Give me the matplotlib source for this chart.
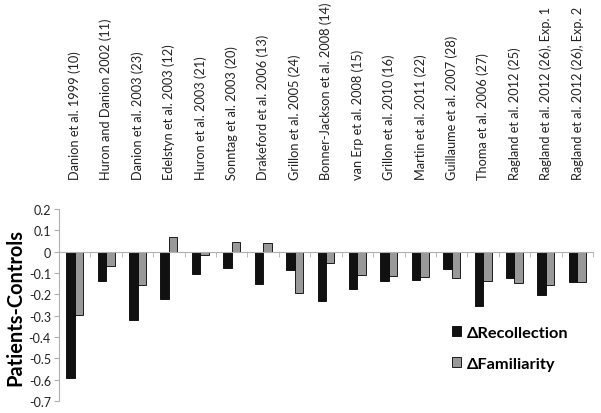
import numpy as np
import matplotlib
matplotlib.use("Agg")
import matplotlib.pyplot as plt
from matplotlib.patches import Patch

plt.rcParams['font.family'] = ['Lato', 'DejaVu Sans']
plt.rcParams['axes.unicode_minus'] = False

studies = [
    "Danion et al. 1999 (10)",
    "Huron and Danion 2002 (11)",
    "Danion et al. 2003 (23)",
    "Edelstyn et al. 2003 (12)",
    "Huron et al. 2003 (21)",
    "Sonntag et al. 2003 (20)",
    "Drakeford et al. 2006 (13)",
    "Grillon et al. 2005 (24)",
    "Bonner-Jackson et al. 2008 (14)",
    "van Erp et al. 2008 (15)",
    "Grillon et al. 2010 (16)",
    "Martin et al. 2011 (22)",
    "Guillaume et al. 2007 (28)",
    "Thoma et al. 2006 (27)",
    "Ragland et al. 2012 (25)",
    "Ragland et al. 2012 (26), Exp. 1",
    "Ragland et al. 2012 (26), Exp. 2",
]
recollection = [-0.594, -0.139, -0.318, -0.220, -0.104, -0.076, -0.151, -0.087,
                -0.229, -0.175, -0.139, -0.134, -0.080, -0.256, -0.122, -0.204, -0.142]
familiarity = [-0.295, -0.067, -0.157, 0.070, -0.017, 0.044, 0.040, -0.195,
               -0.053, -0.110, -0.112, -0.117, -0.122, -0.136, -0.145, -0.156, -0.142]
yticks = [0.2, 0.1, 0, -0.1, -0.2, -0.3, -0.4, -0.5, -0.6, -0.7]

W, H = 601, 414
fig = plt.figure(figsize=(W / 100, H / 100), dpi=100)
ax = fig.add_axes([59 / W, 1 - 402 / H, 534 / W, 192 / H])

x = np.arange(len(studies))
bw = 0.27
c_rec = "#111111"
c_fam = "#999999"
ax.bar(x - bw / 2, recollection, bw, color=c_rec, edgecolor="#000000", linewidth=0.6)
ax.bar(x + bw / 2, familiarity, bw, color=c_fam, edgecolor="#000000", linewidth=0.6)

ax.set_xlim(-0.5, len(studies) - 0.5)
ax.set_ylim(-0.7, 0.2)

axis_gray = "#b0b0b0"
ax.spines['top'].set_visible(False)
ax.spines['right'].set_visible(False)
ax.spines['left'].set_color(axis_gray)
ax.spines['bottom'].set_position(('data', 0))
ax.spines['bottom'].set_color(axis_gray)

ax.set_yticks(yticks)
ax.set_yticklabels([("%g" % v) for v in yticks])
ax.tick_params(axis='y', direction='out', length=3.6, color=axis_gray,
               labelsize=9, labelcolor="#222222", pad=2.2)

# category labels on top, boundary ticks at the zero line
ax.set_xticks(x)
ax.set_xticklabels(studies, rotation=90, fontsize=9.2, color="#222222")
ax.tick_params(axis='x', which='major', bottom=False, top=False,
               labelbottom=False, labeltop=True, pad=18)
ax.set_xticks(np.arange(len(studies) + 1) - 0.5, minor=True)
ax.tick_params(axis='x', which='minor', bottom=True, direction='out',
               length=3.5, color=axis_gray)

fig.text(15 / W, 1 - 308 / H, "Patients-Controls", rotation=90,
         ha='center', va='center', fontsize=14.4, fontweight='bold')

handles = [Patch(facecolor=c_rec, edgecolor="#000000", linewidth=0.6),
           Patch(facecolor=c_fam, edgecolor="#000000", linewidth=0.6)]
ax.legend(handles, ["\u0394Recollection", "\u0394Familiarity"],
          loc='upper left', bbox_to_anchor=(0.736, 0.39), frameon=False,
          borderaxespad=0, borderpad=0, handlelength=0.55, handleheight=0.55,
          handletextpad=0.37, labelspacing=1.0,
          prop={'size': 11.8, 'weight': 'bold'})

fig.savefig("out.png", dpi=100)
